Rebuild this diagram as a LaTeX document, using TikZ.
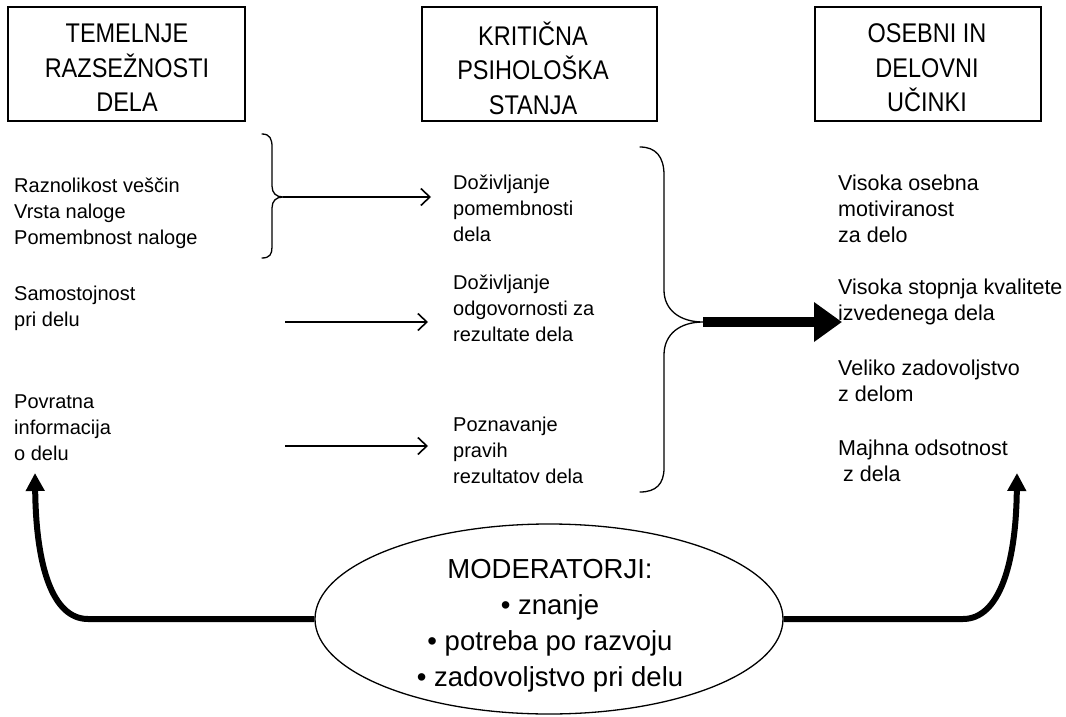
\documentclass[tikz,border=0pt]{standalone}
\usepackage{fontspec}
\setmainfont{Liberation Sans}
\newfontfamily\titlefont[FakeStretch=0.87]{Liberation Sans}
\usetikzlibrary{arrows.meta,shapes.geometric}

\begin{document}
\begin{tikzpicture}[x=1pt,y=-1pt,
  headbox/.style={draw, line width=1.2pt, minimum height=114pt, inner sep=0pt},
  headtext/.style={align=center, inner sep=0pt, font=\titlefont\fontsize{27}{34.5}\selectfont},
  item/.style={anchor=west, align=left, inner sep=0pt, font=\fontsize{20}{26}\selectfont},
  bigitem/.style={item, font=\fontsize{21.5}{26}\selectfont},
  brace/.style={line width=1.3pt, line cap=round},
  thinarrow/.style={line width=1.6pt, -{Straight Barb[length=9pt,width=17pt]}},
  boldarrow/.style={line width=6pt, -{Triangle[length=18pt,width=18pt]}},
  mainarrow/.style={line width=10pt, -{Triangle[length=28pt,width=38pt]}},
  modbox/.style={draw, ellipse, line width=1.3pt, minimum width=468pt, minimum height=190pt, inner sep=0pt},
  modtext/.style={align=center, inner sep=0pt, font=\fontsize{27.5}{36}\selectfont}]
\useasboundingbox (0,0) rectangle (1066,717);

% column headings
\node[headbox, minimum width=237pt] (h1) at (126.5,64) {};
\node[headbox, minimum width=235pt] (h2) at (539.5,64) {};
\node[headbox, minimum width=226pt] (h3) at (928,64) {};
\node[headtext] (h1t) at (127,68) {TEMELNJE\\RAZSEŽNOSTI\\DELA};
\node[headtext] (h2t) at (533,68) {KRITIČNA\\PSIHOLOŠKA\\STANJA};
\node[headtext] (h3t) at (927,68) {OSEBNI IN\\DELOVNI\\UČINKI};

% core job dimensions
\node[item] (d1) at (14,213) {Raznolikost veščin\\Vrsta naloge\\Pomembnost naloge};
\node[item] (d2) at (14,308) {Samostojnost\\pri delu};
\node[item] (d3) at (14,428) {Povratna\\informacija\\o delu};

% critical psychological states
\node[item] (s1) at (453,208) {Doživljanje\\pomembnosti\\dela};
\node[item] (s2) at (453,308) {Doživljanje\\odgovornosti za\\rezultate dela};
\node[item] (s3) at (453,450) {Poznavanje\\pravih\\rezultatov dela};

% outcomes
\node[bigitem] (o1) at (838,209) {Visoka osebna\\motiviranost\\za delo};
\node[bigitem] (o2) at (838,301.5) {Visoka stopnja kvalitete\\izvedenega dela};
\node[bigitem] (o3) at (838,381) {Veliko zadovoljstvo\\z delom};
\node[bigitem] (o4) at (838,461) {Majhna odsotnost\\\hspace*{5pt}z dela};

% connector end points
\coordinate (b1tip) at (283,197);
\coordinate (a1end) at (431,197);
\coordinate (a2start) at (285,322);
\coordinate (a2end) at (428,322);
\coordinate (a3start) at (285,446);
\coordinate (a3end) at (428,446);
\coordinate (b2tip) at (703,322);
\coordinate (bigend) at (842,322);
\coordinate (ltip) at (35,473);
\coordinate (rtip) at (1017,473);

% small brace grouping the first three dimensions
\draw[brace] (262,134) .. controls (270,134) and (272,139) .. (272,147) -- (272,186)
  .. controls (272,193) and (276,197) .. (b1tip)
  .. controls (276,197) and (272,201) .. (272,208) -- (272,247)
  .. controls (272,254) and (270,258) .. (262,258);

% large brace grouping the three states
\draw[brace] (640,147) .. controls (656,147) and (664,157) .. (664,175) -- (664,290)
  .. controls (664,310) and (680,322) .. (b2tip)
  .. controls (680,322) and (664,334) .. (664,355) -- (664,468)
  .. controls (664,484) and (656,492) .. (640,492);

\draw[thinarrow] (b1tip) -- (a1end);
\draw[thinarrow] (a2start) -- (a2end);
\draw[thinarrow] (a3start) -- (a3end);
\draw[mainarrow] (b2tip) -- (bigend);

% moderators
\node[modbox] (mod) at (549,619) {};
\node[modtext] (modtxt) at (550,626) {MODERATORJI:\\\textbullet{} znanje\\\textbullet{} potreba po razvoju\\\textbullet{} zadovoljstvo pri delu};

\draw[boldarrow] (mod.west) -- (88,619) .. controls (52,619) and (36,565) .. (ltip);
\draw[boldarrow] (mod.east) -- (963,619) .. controls (999,619) and (1016,565) .. (rtip);
\end{tikzpicture}
\end{document}
